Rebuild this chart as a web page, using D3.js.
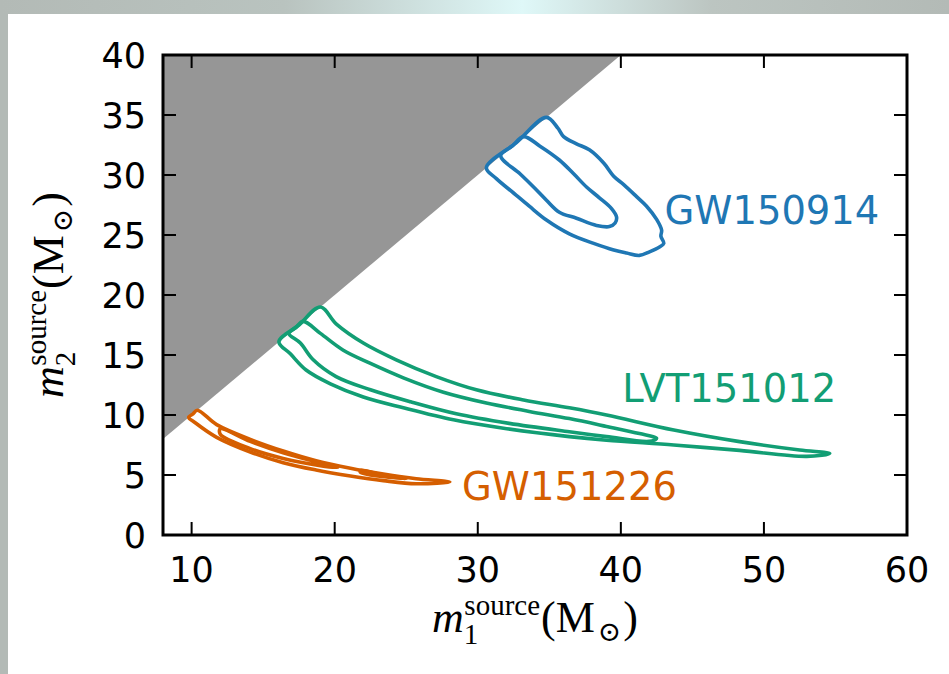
<!DOCTYPE html>
<html lang="en">
<head>
  <meta charset="UTF-8" />
  <title>Binary black hole source masses</title>
  <script src="https://d3js.org/d3.v7.min.js"></script>
  <style>
    body {
      margin: 0;
      overflow: hidden;
    }
    .tick-label {
      font-family: "DejaVu Sans", sans-serif;
      font-size: 35px;
      fill: #000;
    }
    .event-label {
      font-family: "DejaVu Sans", sans-serif;
      font-size: 38.5px;
    }
    .math {
      font-family: "Liberation Serif", "DejaVu Serif", serif;
      fill: #000;
    }
  </style>
</head>
<body>
<svg width="949" height="674"></svg>
<script>
// axis ticks
const xTicks = [10, 20, 30, 40, 50, 60];
const yTicks = [0, 5, 10, 15, 20, 25, 30, 35, 40];

// events and their colours
const events = ["GW150914", "LVT151012", "GW151226"];
const eventColors = ["#1f77b4", "#129e74", "#d55e00"];

// credible-region contours, [m1, m2] in solar masses
const gw150914Outer = [
  [34.8, 34.8], [35.6, 33.9], [36.0, 33.2], [36.9, 32.6], [37.8, 32.1], [38.8, 31.0],
  [39.5, 29.9], [40.2, 29.2], [41.1, 28.2], [41.8, 27.4], [42.5, 26.3], [42.85, 25.4],
  [42.8, 24.9], [43.0, 24.3], [42.7, 24.0], [42.0, 23.6], [41.3, 23.3], [40.4, 23.5],
  [39.5, 23.75], [38.1, 24.3], [36.4, 25.1], [34.8, 26.25], [33.6, 27.4], [32.5, 28.5],
  [31.3, 29.7], [30.6, 30.6], [32.7, 32.7]
];
const gw150914Inner = [
  [33.2, 33.2], [34.35, 32.4], [35.7, 31.25], [36.7, 30.1], [37.6, 29.0], [38.5, 28.1],
  [39.35, 27.2], [39.7, 26.5], [39.6, 26.0], [39.2, 25.7], [38.3, 25.8], [36.9, 26.4],
  [35.7, 26.9], [34.8, 27.9], [33.9, 29.0], [32.95, 30.1], [31.6, 31.6], [32.4, 32.4]
];
const lvt151012Outer = [
  [19.0, 19.0], [20.1, 17.6], [22.0, 16.0], [24.3, 14.6], [27.1, 13.2], [29.9, 12.1],
  [33.2, 11.25], [36.4, 10.6], [39.0, 10.0], [43.7, 8.75], [48.3, 7.78], [52.5, 7.08],
  [54.6, 6.8], [53.0, 6.55], [48.3, 7.05], [43.7, 7.5], [39.0, 7.9], [36.4, 8.2],
  [31.8, 8.9], [28.3, 9.6], [24.8, 10.6], [22.0, 11.5], [19.7, 12.6], [18.0, 13.75],
  [16.9, 15.1], [16.1, 16.1], [17.5, 17.5]
];
const lvt151012Inner = [
  [17.8, 17.8], [19.0, 16.8], [20.6, 15.4], [22.5, 14.3], [24.8, 13.1], [27.6, 11.9],
  [30.6, 11.0], [33.6, 10.3], [36.4, 9.7], [39.0, 9.05], [41.3, 8.45], [42.5, 8.06],
  [42.0, 7.8], [39.0, 8.2], [36.4, 8.6], [32.2, 9.3], [28.5, 10.1], [25.3, 11.1],
  [22.5, 12.1], [20.1, 13.2], [18.5, 14.6], [17.6, 16.0], [16.8, 16.8], [17.3, 17.3]
];
const gw151226Outer = [
  [10.4, 10.4], [11.75, 9.2], [14.1, 7.97], [16.4, 7.0], [18.7, 6.19], [21.1, 5.56],
  [23.4, 5.08], [25.7, 4.69], [28.05, 4.42], [25.7, 4.27], [23.4, 4.53], [21.1, 4.92],
  [18.7, 5.42], [16.4, 6.03], [14.1, 6.92], [11.75, 8.14], [10.2, 9.4], [9.8, 9.8],
  [10.1, 10.1]
];
const gw151226InnerA = [
  [12.0, 8.85], [14.1, 7.8], [16.4, 6.85], [19.0, 6.0], [20.2, 5.62], [19.0, 5.78],
  [16.4, 6.38], [14.1, 7.2], [12.0, 8.4]
];
const gw151226InnerB = [
  [21.8, 5.38], [23.3, 5.02], [25.0, 4.72], [23.3, 4.88], [21.8, 5.22]
];

const width = 949, height = 674;
const margin = {left: 163, right: 42, top: 55, bottom: 139};
const svg = d3.select("svg");

// page backdrop: grey frame with a pale glare on top
const defs = svg.append("defs");
const glare = defs.append("linearGradient").attr("id", "glare");
glare.append("stop").attr("offset", "0%").attr("stop-color", "#b3bab6");
glare.append("stop").attr("offset", "30%").attr("stop-color", "#b9c3bf");
glare.append("stop").attr("offset", "55%").attr("stop-color", "#dff8f8");
glare.append("stop").attr("offset", "75%").attr("stop-color", "#bcc5c1");
glare.append("stop").attr("offset", "100%").attr("stop-color", "#b3bab6");
svg.append("rect").attr("width", width).attr("height", height).attr("fill", "#b3bab6");
svg.append("rect").attr("width", width).attr("height", 14).attr("fill", "url(#glare)");
svg.append("rect").attr("x", 8).attr("y", 14).attr("width", width - 8).attr("height", height - 14).attr("fill", "#fff");

const x = d3.scaleLinear().domain([8, 60]).range([margin.left, width - margin.right]);
const y = d3.scaleLinear().domain([0, 40]).range([height - margin.bottom, margin.top]);

const plot = svg.append("g");
defs.append("clipPath").attr("id", "plot-clip")
  .append("rect")
  .attr("x", x(8)).attr("y", y(40))
  .attr("width", x(60) - x(8)).attr("height", y(0) - y(40));

// excluded region m2 > m1
plot.append("path")
  .attr("d", d3.line().x(d => x(d[0])).y(d => y(d[1]))([[8, 8], [40, 40], [8, 40]]) + "Z")
  .attr("fill", "#969696");

const contour = d3.line()
  .x(d => x(d[0]))
  .y(d => y(d[1]))
  .curve(d3.curveCatmullRomClosed.alpha(0.5));

const contours = [
  [gw150914Outer, 0], [gw150914Inner, 0],
  [lvt151012Outer, 1], [lvt151012Inner, 1],
  [gw151226Outer, 2], [gw151226InnerA, 2], [gw151226InnerB, 2]
];
plot.selectAll(".contour")
  .data(contours)
  .join("path")
  .attr("class", "contour")
  .attr("clip-path", "url(#plot-clip)")
  .attr("d", d => contour(d[0]))
  .attr("fill", "none")
  .attr("stroke", d => eventColors[d[1]])
  .attr("stroke-width", 3.6)
  .attr("stroke-linejoin", "round");

// event names
const labelAt = [[43.05, 25.9], [40.1, 11.1], [28.9, 2.9]];
plot.selectAll(".event-label")
  .data(events)
  .join("text")
  .attr("class", "event-label")
  .attr("x", (d, i) => x(labelAt[i][0]))
  .attr("y", (d, i) => y(labelAt[i][1]))
  .attr("fill", (d, i) => eventColors[i])
  .text(d => d);

// inward ticks on all four sides
const tickLen = 13;
const axes = svg.append("g").attr("stroke", "#000").attr("stroke-width", 2);
xTicks.forEach(t => {
  axes.append("line").attr("x1", x(t)).attr("x2", x(t)).attr("y1", y(0)).attr("y2", y(0) - tickLen);
  axes.append("line").attr("x1", x(t)).attr("x2", x(t)).attr("y1", y(40)).attr("y2", y(40) + tickLen);
});
yTicks.forEach(t => {
  axes.append("line").attr("x1", x(8)).attr("x2", x(8) + tickLen).attr("y1", y(t)).attr("y2", y(t));
  axes.append("line").attr("x1", x(60)).attr("x2", x(60) - tickLen).attr("y1", y(t)).attr("y2", y(t));
});
axes.append("rect")
  .attr("x", x(8)).attr("y", y(40))
  .attr("width", x(60) - x(8)).attr("height", y(0) - y(40))
  .attr("fill", "none").attr("stroke-width", 3);

svg.selectAll(".xt")
  .data(xTicks)
  .join("text")
  .attr("class", "tick-label xt")
  .attr("x", d => x(d))
  .attr("y", y(0) + 47)
  .attr("text-anchor", "middle")
  .text(d => d);

svg.selectAll(".yt")
  .data(yTicks)
  .join("text")
  .attr("class", "tick-label yt")
  .attr("x", x(8) - 17)
  .attr("y", d => y(d))
  .attr("dy", "0.36em")
  .attr("text-anchor", "end")
  .text(d => d);

// axis titles in TeX style
function massLabel(g, idx) {
  const t = g.append("text").attr("class", "math").attr("font-size", 44);
  t.append("tspan").attr("font-style", "italic").text("m");
  t.append("tspan").attr("font-size", 29).attr("dy", 12).text(idx);
  t.append("tspan").attr("font-size", 29).attr("dx", -14).attr("dy", -29).text("source");
  t.append("tspan").attr("dy", 17).attr("dx", 1).text("(M");
  t.append("tspan").attr("font-size", 28).attr("dy", 9).attr("dx", 3).text("\u2299");
  t.append("tspan").attr("dy", -9).attr("dx", 2).text(")");
  return t;
}
const xl = svg.append("g").attr("transform", `translate(${(x(8) + x(60)) / 2},632)`);
massLabel(xl, "1").attr("text-anchor", "middle");
const yl = svg.append("g").attr("transform", `translate(63,${(y(0) + y(40)) / 2}) rotate(-90)`);
massLabel(yl, "2").attr("text-anchor", "middle");
</script>
</body>
</html>
